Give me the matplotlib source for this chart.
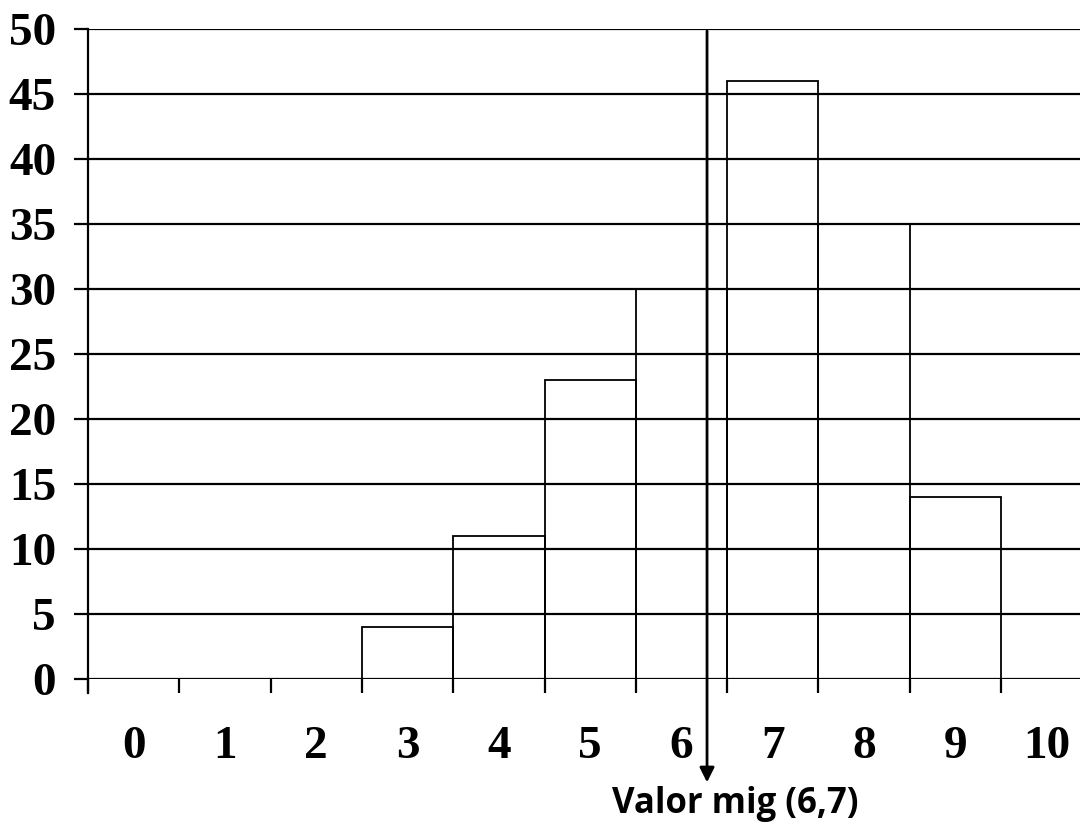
import numpy as np
import matplotlib.pyplot as plt

# notes 0..10 and how many students got each
notes = list(range(11))
freq = [0, 0, 0, 4, 11, 23, 30, 46, 35, 14, 0]
mean_label = 'Valor mig (6,7)'
mean_pos = 6.78   # where the arrow sits on the axis

fig = plt.figure(figsize=(10.8, 8.27), dpi=100)
ax = fig.add_axes([88/1080, 1-679/827, 1-88/1080, (679-29)/827])

ax.bar(notes, freq, width=1, align='edge', fill=False,
       edgecolor='black', linewidth=1.3, zorder=3)

ax.set_xlim(0, 10.865)
ax.set_ylim(0, 50)

# horizontal grid
for y in range(0, 51, 5):
    ax.axhline(y, color='black', lw=1.6, zorder=2)

for s in ['top', 'right', 'bottom']:
    ax.spines[s].set_visible(False)
ax.spines['left'].set_linewidth(1.6)
ax.spines['left'].set_bounds(-1.1, 50)

ax.set_yticks(range(0, 51, 5))
ax.tick_params(axis='y', direction='out', length=10, width=1.6, pad=13)
for lab in ax.get_yticklabels():
    lab.set_fontfamily('Liberation Serif')
    lab.set_fontweight('bold')
    lab.set_fontsize(34)

# labels in the middle of each class, small ticks on the borders
ax.set_xticks(np.array(notes) + 0.5)
ax.set_xticklabels([str(n) for n in notes], fontfamily='Liberation Serif',
                   fontweight='bold', fontsize=34)
ax.tick_params(axis='x', length=0, pad=34)
ax.set_xticks(notes, minor=True)
ax.tick_params(axis='x', which='minor', direction='out', length=10, width=1.6)

# arrow marking the mean
ax.annotate('', xy=(mean_pos, -7.95), xytext=(mean_pos, 49.85),
            arrowprops=dict(arrowstyle='-|>', color='black', lw=2,
                            mutation_scale=22, shrinkA=0, shrinkB=0),
            annotation_clip=False, zorder=4)
ax.text(mean_pos + 0.31, -9.6, mean_label, ha='center', va='center',
        fontsize=25, fontweight='bold', fontfamily='Open Sans', clip_on=False)

fig.savefig('out.png', dpi=100)
